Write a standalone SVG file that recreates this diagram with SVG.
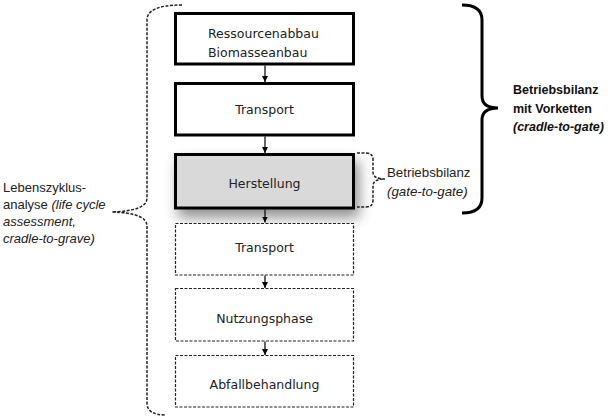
<svg xmlns="http://www.w3.org/2000/svg" width="610" height="418" viewBox="0 0 610 418">
  <defs>
    <style>
      .solid { fill: #ffffff; stroke: #000000; stroke-width: 3; }
      .dashed { fill: #ffffff; stroke: #222222; stroke-width: 1.2; stroke-dasharray: 3 1.5; }
      .box-text { font-family: "DejaVu Sans", Verdana, sans-serif; font-size: 12.5px; fill: #222222; }
      .label { font-family: "Liberation Sans", Arial, sans-serif; font-size: 13px; fill: #222222; }
      .bold { font-family: "Liberation Sans", Arial, sans-serif; font-size: 12.5px; font-weight: bold; fill: #111111; }
      .brace-dash { fill: none; stroke: #222222; stroke-width: 1.5; stroke-dasharray: 3 1.5; }
      .brace-solid { fill: none; stroke: #000000; stroke-width: 3; }
      .conn { stroke: #000000; stroke-width: 1.2; fill: none; marker-end: url(#arrow); }
    </style>
    <marker id="arrow" viewBox="0 0 10 10" refX="10" refY="5" markerWidth="6" markerHeight="6" markerUnits="userSpaceOnUse" orient="auto">
      <path d="M0,0 L10,5 L0,10 z" fill="#000000"/>
    </marker>
    <filter id="shadow" x="-30%" y="-60%" width="160%" height="220%">
      <feGaussianBlur in="SourceAlpha" stdDeviation="7"/>
      <feOffset dx="4" dy="8" result="b"/>
      <feComponentTransfer><feFuncA type="linear" slope="0.45"/></feComponentTransfer>
      <feMerge><feMergeNode/><feMergeNode in="SourceGraphic"/></feMerge>
    </filter>
  </defs>
  <rect x="0" y="0" width="610" height="418" fill="#ffffff"/>

  <g id="connectors">
    <line class="conn" x1="265" y1="65.5" x2="265" y2="82"/>
    <line class="conn" x1="265" y1="136.5" x2="265" y2="153"/>
    <line class="conn" x1="265" y1="209.5" x2="265" y2="222.5"/>
    <line class="conn" x1="265" y1="275.5" x2="265" y2="288"/>
    <line class="conn" x1="265" y1="341.5" x2="265" y2="355"/>
  </g>

  <g id="node-ressourcen">
    <rect class="solid" x="175.5" y="13.5" width="178" height="50.5"/>
    <text class="box-text" x="208" y="38">Ressourcenabbau</text>
    <text class="box-text" x="208" y="57">Biomasseanbau</text>
  </g>
  <g id="node-transport1">
    <rect class="solid" x="175.5" y="83.5" width="178" height="51.5"/>
    <text class="box-text" x="264.5" y="113.5" text-anchor="middle">Transport</text>
  </g>
  <g id="node-herstellung">
    <rect class="solid" x="175.5" y="154.5" width="178" height="53.5" fill="#d9d9d9" style="fill:#d9d9d9" filter="url(#shadow)"/>
    <text class="box-text" x="264.5" y="187.5" text-anchor="middle">Herstellung</text>
  </g>
  <g id="node-transport2">
    <rect class="dashed" x="175.5" y="223.5" width="178" height="51.5"/>
    <text class="box-text" x="264.5" y="251.5" text-anchor="middle">Transport</text>
  </g>
  <g id="node-nutzung">
    <rect class="dashed" x="175.5" y="288.5" width="178" height="52.5"/>
    <text class="box-text" x="264.5" y="322.5" text-anchor="middle">Nutzungsphase</text>
  </g>
  <g id="node-abfall">
    <rect class="dashed" x="175.5" y="355.5" width="178" height="51.5"/>
    <text class="box-text" x="264.5" y="388.5" text-anchor="middle">Abfallbehandlung</text>
  </g>

  <g id="brace-lca">
    <path class="brace-dash" d="M182,5 Q147,5 147,20 L147,198 Q147,211 112,212 Q147,213 147,226 L147,403 Q147,415 166,415"/>
    <text class="label" x="3" y="192">Lebenszyklus-</text>
    <text class="label" x="3" y="209">analyse <tspan font-style="italic">(life cycle</tspan></text>
    <text class="label" x="3" y="226" font-style="italic">assessment,</text>
    <text class="label" x="3" y="243" font-style="italic">cradle-to-grave)</text>
  </g>

  <g id="brace-gate">
    <path class="brace-dash" d="M357,153 L366,153 Q373,153 373,160 L373,172 Q373,179 385,179 Q373,179 373,186 L373,200 Q373,207 366,207 L357,207"/>
    <text class="label" x="387" y="177" style="font-size:13.3px">Betriebsbilanz</text>
    <text class="label" x="387" y="196" style="font-size:13.3px" font-style="italic">(gate-to-gate)</text>
  </g>

  <g id="brace-cradle">
    <path class="brace-solid" d="M462,5 Q482,5 482,20 L482,96 Q482,108 498,108 Q482,108 482,120 L482,198 Q482,213 462,213"/>
    <text class="bold" x="513" y="94">Betriebsbilanz</text>
    <text class="bold" x="513" y="113">mit Vorketten</text>
    <text class="bold" x="513" y="131" font-style="italic">(cradle-to-gate)</text>
  </g>
</svg>
